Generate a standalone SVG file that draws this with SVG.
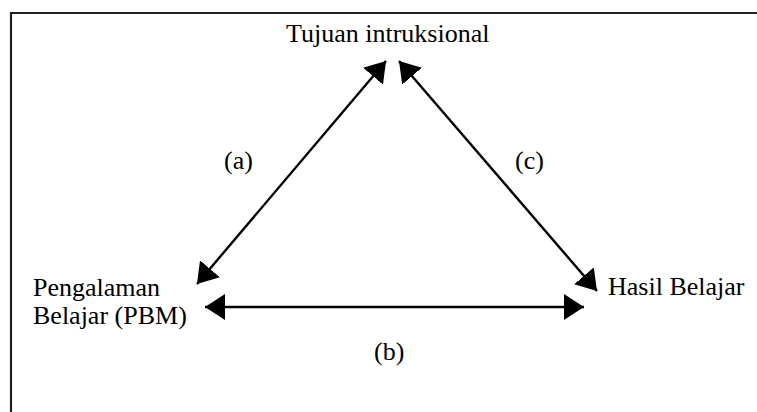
<svg xmlns="http://www.w3.org/2000/svg" width="757" height="412" viewBox="0 0 757 412">
  <style>
    .t { font-family: "Liberation Serif", "Times New Roman", serif; font-size: 26px; fill: #000; }
    .c { stroke: #000; stroke-width: 2.4; fill: none; marker-start: url(#ah); marker-end: url(#ah); }
  </style>
  <defs>
    <marker id="ah" markerUnits="userSpaceOnUse" markerWidth="21" markerHeight="26" refX="20" refY="13" orient="auto-start-reverse" viewBox="0 0 21 26">
      <path d="M0,0 L20,13 L0,26 z" fill="#000"/>
    </marker>
  </defs>
  <rect width="757" height="412" fill="#fff"/>
  <path d="M11,412 V13 H757" fill="none" stroke="#222" stroke-width="2.2"/>

  <g id="node-tujuan"><text class="t" x="286" y="42">Tujuan intruksional</text></g>
  <g id="node-pengalaman">
    <text class="t" x="33" y="296">Pengalaman</text>
    <text class="t" x="33" y="324">Belajar (PBM)</text>
  </g>
  <g id="node-hasil"><text class="t" x="608" y="295">Hasil Belajar</text></g>

  <g id="connectors">
    <line class="c" x1="197" y1="284" x2="386" y2="61"/>
    <line class="c" x1="399" y1="61" x2="597" y2="291"/>
    <line class="c" x1="205" y1="307" x2="584" y2="307"/>
  </g>

  <g id="labels">
    <text class="t" x="224" y="169">(a)</text>
    <text class="t" x="515" y="169">(c)</text>
    <text class="t" x="374" y="360">(b)</text>
  </g>
</svg>
